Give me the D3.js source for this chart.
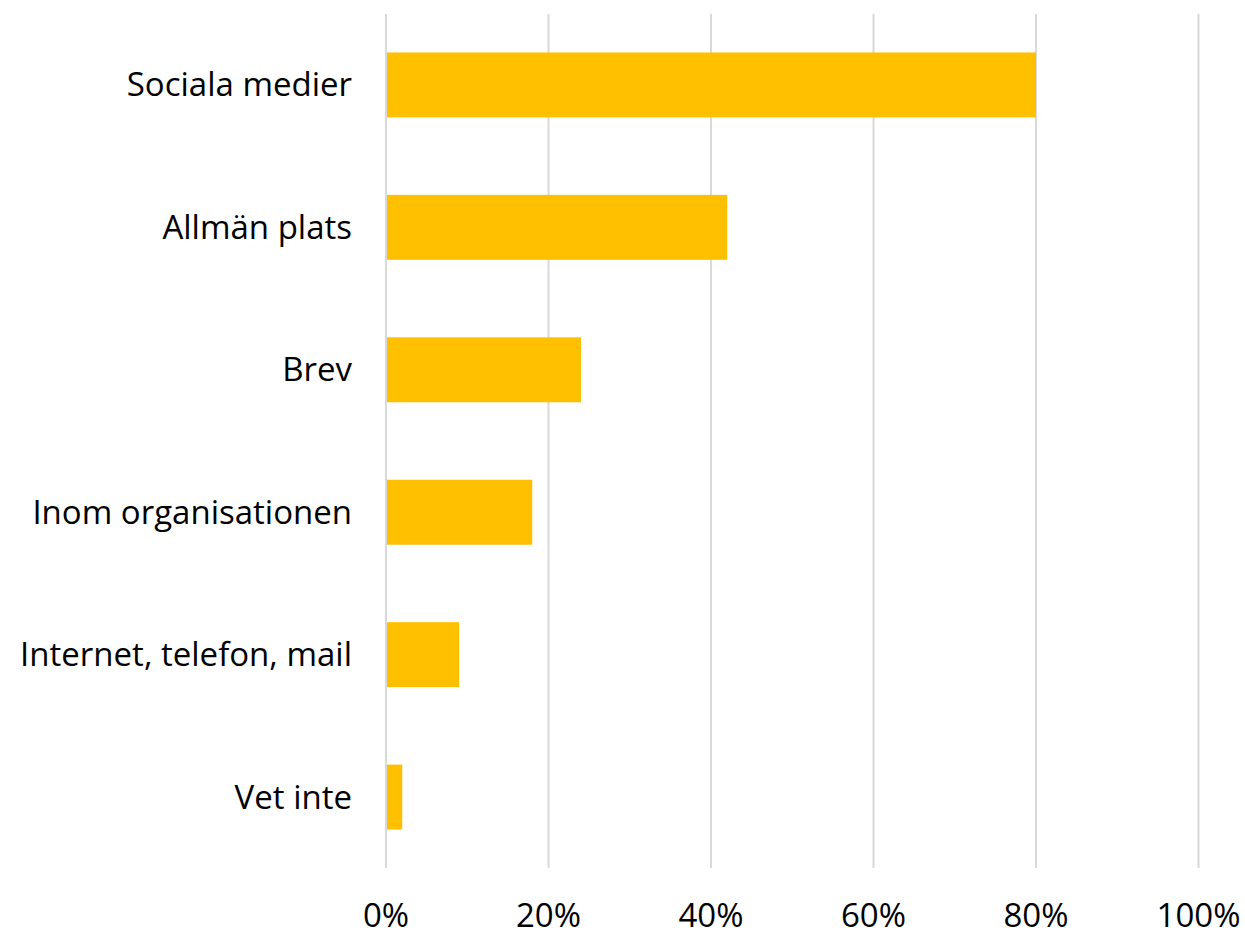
<!DOCTYPE html>
<html>
<head>
<meta charset="utf-8">
<script src="https://cdn.jsdelivr.net/npm/d3@7"></script>
<style>
  body { margin: 0; background: #fff; }
  text { font-family: "Open Sans", sans-serif; fill: #000; }
</style>
</head>
<body>
<div id="chart"></div>
<script>
// data
const categories = ["Sociala medier", "Allmän plats", "Brev", "Inom organisationen", "Internet, telefon, mail", "Vet inte"];
const values = [80, 42, 24, 18, 9, 2];
const ticks = [0, 20, 40, 60, 80, 100];

// formatting constants
const width = 1245;
const height = 930;
const margin = {top: 14, bottom: 62, left: 386, right: 46.5};
const barColor = "#FFC000";
const gridColor = "#d9d9d9";

const svg = d3.select("#chart")
    .append("svg")
        .attr("width", width)
        .attr("height", height);

const plot = svg.append("g")
    .attr("transform", `translate(${margin.left}, ${margin.top})`);

const innerW = width - margin.left - margin.right;
const innerH = height - margin.top - margin.bottom;

const x = d3.scaleLinear()
    .domain([0, 100])
    .range([0, innerW]);

const y = d3.scaleBand()
    .domain(categories)
    .range([0, innerH])
    .paddingInner(0.544)
    .paddingOuter(0.27);

// gridlines
plot.append("g")
    .selectAll("line")
    .data(ticks)
    .join("line")
        .attr("x1", d => x(d))
        .attr("x2", d => x(d))
        .attr("y1", 0)
        .attr("y2", innerH)
        .attr("stroke", gridColor)
        .attr("stroke-width", 2);

// bars
plot.append("g")
    .selectAll("rect")
    .data(values)
    .join("rect")
        .attr("x", x(0) + 1)
        .attr("y", (d, i) => y(categories[i]))
        .attr("width", d => x(d) - x(0) - 1)
        .attr("height", y.bandwidth())
        .attr("fill", barColor);

// category labels
plot.append("g")
    .selectAll("text")
    .data(categories)
    .join("text")
        .attr("x", -34)
        .attr("y", d => y(d) + y.bandwidth() / 2)
        .attr("dy", "0.35em")
        .attr("text-anchor", "end")
        .attr("font-size", 33)
        .text(d => d);

// x tick labels
plot.append("g")
    .selectAll("text")
    .data(ticks)
    .join("text")
        .attr("x", d => x(d))
        .attr("y", innerH + 59)
        .attr("text-anchor", "middle")
        .attr("font-size", 33)
        .text(d => d + "%");
</script>
</body>
</html>
